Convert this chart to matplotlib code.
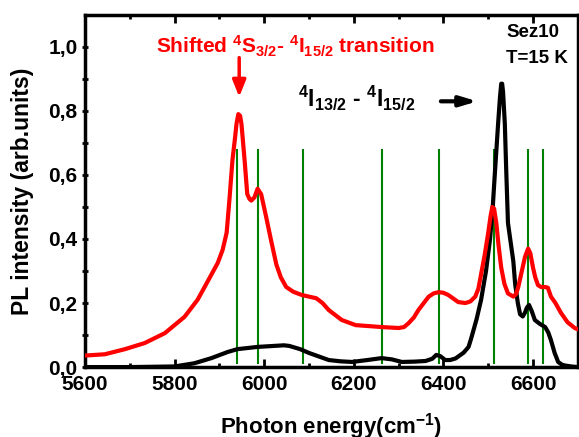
import numpy as np
import matplotlib
matplotlib.use("Agg")
import matplotlib.pyplot as plt

plt.rcParams["font.family"] = ["Liberation Sans", "DejaVu Sans"]
plt.rcParams["font.weight"] = "bold"
plt.rcParams["mathtext.fontset"] = "custom"
plt.rcParams["mathtext.rm"] = "Liberation Sans:bold"
plt.rcParams["mathtext.bf"] = "Liberation Sans:bold"
plt.rcParams["mathtext.it"] = "Liberation Sans:bold"

# red curve (sample 1)
red_x = [5600, 5644, 5689, 5733, 5778, 5822, 5851, 5873, 5896, 5907, 5916, 5922, 5929, 5935,
         5938, 5942, 5946, 5949, 5956, 5962, 5967, 5971, 5978, 5985, 5993, 6004, 6016, 6027,
         6037, 6049, 6065, 6084, 6100, 6116, 6130, 6144, 6173, 6204, 6262, 6300, 6312, 6322,
         6334, 6344, 6356, 6367, 6378, 6389, 6400, 6411, 6433, 6449, 6460, 6471, 6478, 6484,
         6492, 6500, 6505, 6509, 6513, 6518, 6523, 6529, 6536, 6544, 6556, 6562, 6567, 6575,
         6582, 6589, 6594, 6600, 6605, 6611, 6618, 6627, 6633, 6640, 6650, 6662, 6677, 6693,
         6700]
red_y = [0.036, 0.040, 0.056, 0.075, 0.106, 0.157, 0.21, 0.266, 0.325, 0.366, 0.42, 0.52, 0.647, 0.72,
         0.76, 0.79, 0.785, 0.76, 0.647, 0.54, 0.525, 0.52, 0.53, 0.557, 0.54, 0.47, 0.39, 0.32,
         0.28, 0.25, 0.235, 0.225, 0.22, 0.215, 0.2, 0.178, 0.147, 0.131, 0.125, 0.122, 0.125, 0.137,
         0.155, 0.178, 0.2, 0.22, 0.23, 0.234, 0.232, 0.225, 0.203, 0.2, 0.205, 0.22, 0.245, 0.29,
         0.35, 0.42, 0.47, 0.50, 0.495, 0.45, 0.38, 0.31, 0.26, 0.23, 0.22, 0.228, 0.25, 0.30,
         0.344, 0.37, 0.355, 0.31, 0.28, 0.256, 0.25, 0.25, 0.248, 0.22, 0.2, 0.17, 0.14, 0.122,
         0.118]

# black curve (sample 2)
black_x = [5600, 5700, 5800, 5844, 5882, 5918, 5940, 5985, 6044, 6056, 6080, 6100, 6122, 6144,
           6170, 6196, 6230, 6262, 6285, 6307, 6335, 6360, 6375, 6384, 6393, 6404, 6415, 6427,
           6433, 6445, 6456, 6462, 6474, 6484, 6495, 6504, 6510, 6515, 6522, 6526, 6529, 6531,
           6533, 6537, 6540, 6544, 6551, 6556, 6560, 6566, 6571, 6577, 6582, 6586, 6591, 6597,
           6604, 6615, 6627, 6634, 6640, 6648, 6656, 6664, 6671, 6685, 6700]
black_y = [0.0, 0.0, 0.002, 0.012, 0.028, 0.047, 0.056, 0.063, 0.068, 0.066, 0.056, 0.044, 0.033, 0.022,
           0.018, 0.016, 0.022, 0.028, 0.024, 0.016, 0.017, 0.019, 0.026, 0.038, 0.034, 0.022, 0.022, 0.027,
           0.033, 0.045, 0.063, 0.09, 0.15, 0.21, 0.30, 0.40, 0.50, 0.61, 0.76, 0.84, 0.885, 0.885,
           0.86, 0.76, 0.62, 0.45, 0.38, 0.33, 0.26, 0.20, 0.165, 0.158, 0.17, 0.185, 0.194, 0.175,
           0.147, 0.135, 0.125, 0.108, 0.084, 0.045, 0.016, 0.008, 0.005, 0.002, 0.0]

# crystal-field line positions
line_pos = [5940, 5985, 6087, 6262, 6391, 6513, 6589, 6622]
line_top = 0.68

fig = plt.figure(figsize=(5.79, 4.37), dpi=100)
ax = fig.add_axes([0.147, 0.160, 0.851, 0.806])

ax.vlines(line_pos, 0.01, line_top, color="green", lw=1.5, zorder=1)
ax.plot(red_x, red_y, color="red", lw=3, zorder=3, solid_joinstyle="round")
ax.plot(black_x, black_y, color="black", lw=3, zorder=2, solid_joinstyle="round")

ax.set_xlim(5600, 6700)
ax.set_ylim(0, 1.1)
ax.set_xticks([5600, 5800, 6000, 6200, 6400, 6600])
ax.set_xticks(np.arange(5700, 6700, 200), minor=True)
ax.set_yticks([0.0, 0.2, 0.4, 0.6, 0.8, 1.0])
ax.set_yticklabels(["0,0", "0,2", "0,4", "0,6", "0,8", "1,0"])
ax.set_yticks([0.1, 0.3, 0.5, 0.7, 0.9], minor=True)
ax.tick_params(axis="x", which="major", labelsize=15, width=2, length=6, direction="in",
               top=True, pad=6)
ax.tick_params(axis="y", which="major", labelsize=15, width=2, length=5, direction="inout",
               pad=3)
ax.tick_params(axis="x", which="minor", width=2, length=3, direction="in", top=True)
ax.tick_params(axis="y", which="minor", width=2, length=4, direction="inout")
for lbl in ax.get_xticklabels() + ax.get_yticklabels():
    lbl.set_fontweight("bold")
for s in ax.spines.values():
    s.set_linewidth(2.5)

ax.set_ylabel("PL intensity (arb.units)", fontsize=16.5, fontweight="bold", labelpad=10)
ax.set_xlabel(r"Photon energy(cm$^{-1}$)", fontsize=16, fontweight="bold", labelpad=12)

ax.text(5758, 1.0, r"Shifted $^{4}$S$_{3/2}$- $^{4}$I$_{15/2}$ transition", color="red",
        fontsize=15, fontweight="bold", va="center")
ax.annotate("", xy=(5944, 0.835), xytext=(5944, 0.975),
            arrowprops=dict(arrowstyle="-|>,head_width=0.4,head_length=1.0", color="red", lw=2.5))
ax.text(6075, 0.84, r"$^{4}$I$_{13/2}$ - $^{4}$I$_{15/2}$", color="black", fontsize=16.5,
        fontweight="bold", va="center")
ax.annotate("", xy=(6482, 0.83), xytext=(6388, 0.83),
            arrowprops=dict(arrowstyle="-|>,head_width=0.3,head_length=1.0", color="black", lw=3))
ax.text(6540, 1.07, "Sez10", fontsize=13.5, fontweight="bold", va="top")
ax.text(6540, 0.99, "T=15 K", fontsize=13.5, fontweight="bold", va="top")

fig.savefig("out.png", dpi=100)
